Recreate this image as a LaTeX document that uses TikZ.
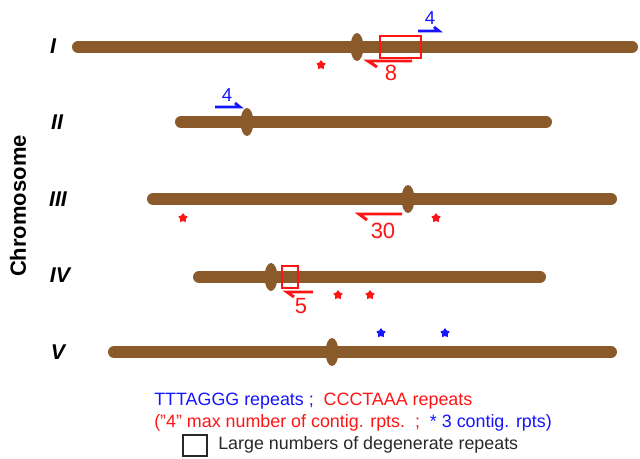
\documentclass[tikz,border=0pt]{standalone}
\usepackage{fontspec}
\setmainfont{Liberation Sans}
\usetikzlibrary{shapes.geometric}
\definecolor{chrom}{RGB}{139,90,43}
\definecolor{rptred}{RGB}{255,20,20}
\definecolor{rptblue}{RGB}{20,20,255}
\definecolor{legtext}{RGB}{40,40,40}
\tikzset{
  arm/.style={line width=9pt, line cap=round, chrom},
  centro/.style={fill=chrom, draw=none},
  harpred/.style={rptred, line width=2.2pt},
  harpblue/.style={rptblue, line width=2pt},
  degbox/.style={draw=rptred, line width=1.2pt},
  redstar/.style={star, star points=5, star point ratio=1.7, fill=rptred, draw=rptred, line width=0.6pt, line join=round, minimum size=6.5pt, inner sep=0pt},
  bluestar/.style={redstar, fill=rptblue, draw=rptblue},
  roman/.style={font=\fontsize{16}{16}\selectfont\bfseries\itshape},
  cnt/.style={font=\fontsize{16.5}{16.5}\selectfont, inner sep=0pt},
  cntb/.style={font=\fontsize{14}{14}\selectfont, inner sep=0pt, text=rptblue},
  legend/.style={font=\fontsize{13.4}{13.4}\selectfont, inner sep=0pt, anchor=west},
}
\begin{document}
\begin{tikzpicture}[x=0.75pt, y=-0.75pt]
\useasboundingbox (0,0) rectangle (640,459);

% axis title and chromosome numbers
\node[font=\fontsize{16.5}{16.5}\selectfont\bfseries, rotate=90] (axis) at (18,206) {Chromosome};
\node[roman] (nI) at (53,46) {I};
\node[roman] (nII) at (57,122) {II};
\node[roman] (nIII) at (58,199) {III};
\node[roman] (nIV) at (60,275) {IV};
\node[roman] (nV) at (58,352) {V};

% chromosome I
\draw[arm] (78,47) -- (632,47);
\fill[centro] (357,47) ellipse [x radius=6.5, y radius=14];
\draw[degbox] (380,36) rectangle (421,58);
\draw[harpblue] (418,31) -- (439,31) -- (434,27);
\node[cntb] (lI4) at (430,18) {4};
\draw[harpred] (412,61) -- (368,61) -- (377,67);
\node[cnt, text=rptred] (lI8) at (391,73) {8};
\node[redstar] (sI) at (321,65) {};

% chromosome II
\draw[arm] (181,122) -- (546,122);
\fill[centro] (247,122) ellipse [x radius=6.5, y radius=14];
\draw[harpblue] (215,107) -- (240,107) -- (235,103);
\node[cntb] (lII4) at (227,95) {4};

% chromosome III
\draw[arm] (153,199) -- (611,199);
\fill[centro] (408,199) ellipse [x radius=6.5, y radius=14];
\draw[harpred] (402,214) -- (359,214) -- (367,220);
\node[cnt, text=rptred] (lIII30) at (383,231) {30};
\node[redstar] (sIIIa) at (183,218) {};
\node[redstar] (sIIIb) at (436,218) {};

% chromosome IV
\draw[arm] (199,277) -- (540,277);
\fill[centro] (271,277) ellipse [x radius=6.5, y radius=14];
\draw[degbox] (282,266) rectangle (298,288);
\draw[harpred] (313,292) -- (287,292) -- (294,297);
\node[cnt, text=rptred] (lIV5) at (301,306) {5};
\node[redstar] (sIVa) at (338,295) {};
\node[redstar] (sIVb) at (370,295) {};

% chromosome V
\draw[arm] (114,352) -- (611,352);
\fill[centro] (332,352) ellipse [x radius=6.5, y radius=14];
\node[bluestar] (sVa) at (381,333) {};
\node[bluestar] (sVb) at (445,333) {};

% key
\node[legend] (key1) at (154,401) {\textcolor{rptblue}{TTTAGGG repeats ;}\ \ \textcolor{rptred}{CCCTAAA repeats}};
\node[legend] (key2) at (154,423) {\textcolor{rptred}{(\symbol{34}4\symbol{34} max number of contig. rpts.\ \ ;}\ \ \textcolor{rptblue}{* 3 contig. rpts)}};
\draw[legtext, line width=1pt] (183,435) rectangle (207,456);
\node[legend, text=legtext] (key3) at (218,445) {Large numbers of degenerate repeats};
\end{tikzpicture}
\end{document}
